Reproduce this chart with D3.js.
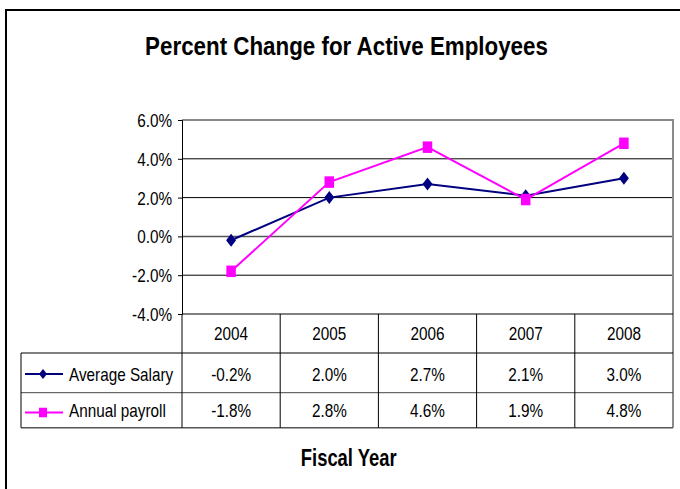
<!DOCTYPE html>
<html>
<head>
<meta charset="utf-8">
<script src="https://cdn.jsdelivr.net/npm/d3@7"></script>
<style>
  body { margin: 0; background: #fff; }
  text { font-family: "Liberation Sans", Arial, sans-serif; fill: #000; }
</style>
</head>
<body>
<div id="div_chart"></div>
<script>
// chart data
var years = ["2004", "2005", "2006", "2007", "2008"];
var avgSalary = [-0.2, 2.0, 2.7, 2.1, 3.0];
var annualPayroll = [-1.8, 2.8, 4.6, 1.9, 4.8];
var seriesNames = ["Average Salary", "Annual payroll"];
var yTicks = [-4, -2, 0, 2, 4, 6];

var svgWidth = 680, svgHeight = 489;
// plot area
var plot = {left: 182, right: 673, top: 120, bottom: 314};
// data table rows (header, salary, payroll)
var rowEdges = [314, 353, 392.7, 427.7];
var legendLeft = 21;
var fs = 18, sx = 0.85; // text looks narrow in the reference

var svg = d3.select("#div_chart")
    .append("svg")
        .attr("width", svgWidth)
        .attr("height", svgHeight);

// outer frame (right / bottom run off the picture)
svg.append("rect")
    .attr("x", 6).attr("y", 10)
    .attr("width", 700).attr("height", 520)
    .attr("fill", "none")
    .attr("stroke", "#000")
    .attr("stroke-width", 2);

function label(x, y, txt, size, anchor, bold, scale) {
    svg.append("g")
        .attr("transform", "translate(" + x + "," + y + ") scale(" + scale + ",1)")
      .append("text")
        .attr("text-anchor", anchor)
        .style("font-size", size + "px")
        .style("font-weight", bold ? "bold" : "normal")
        .text(txt);
}

// title
label(346.5, 55, "Percent Change for Active Employees", 26, "middle", true, 0.86);

// scales
var x = d3.scaleBand()
    .domain(years)
    .range([plot.left, plot.right])
    .padding(0);
var y = d3.scaleLinear()
    .domain([-4, 6])
    .range([plot.bottom, plot.top]);

// gridlines
svg.append("g")
    .selectAll("line")
    .data(yTicks.filter(d => d > -4 && d < 6))
    .enter()
    .append("line")
        .attr("x1", plot.left).attr("x2", plot.right)
        .attr("y1", d => y(d)).attr("y2", d => y(d))
        .attr("stroke", d => d === 0 ? "#555" : "#000")
        .attr("stroke-width", d => d === 0 ? 1.5 : 1);

// plot border top / right (grey)
svg.append("path")
    .attr("d", "M" + plot.left + "," + y(6) + "H" + plot.right + "V" + rowEdges[3])
    .attr("fill", "none")
    .attr("stroke", "#8a8a8a")
    .attr("stroke-width", 2);

// y axis
var yAxis = svg.append("g")
    .attr("transform", "translate(" + plot.left + ",0)")
    .call(d3.axisLeft(y)
        .tickValues(yTicks)
        .tickSize(4)
        .tickPadding(6)
        .tickFormat(d => d.toFixed(1) + "%"));
yAxis.select(".domain").attr("stroke", "#000");
yAxis.selectAll(".tick line").attr("stroke", "#000");
yAxis.selectAll("text")
    .attr("font-family", null)
    .attr("font-size", null)
    .style("font-size", fs + "px")
    .attr("x", -10 / sx)
    .attr("dy", "0.36em")
    .attr("transform", "scale(" + sx + ",1)");

// data table grid
var tbl = svg.append("g").attr("stroke", "#000").attr("stroke-width", 1);
tbl.append("line")
    .attr("x1", plot.left).attr("x2", plot.right)
    .attr("y1", rowEdges[0]).attr("y2", rowEdges[0]);
[rowEdges[1], rowEdges[2]].forEach(function (r, i) {
    tbl.append("line")
        .attr("x1", legendLeft).attr("x2", plot.right)
        .attr("y1", r).attr("y2", r)
        .attr("stroke", i === 1 ? "#444" : "#000");
});
tbl.append("line")
    .attr("x1", legendLeft).attr("x2", plot.right)
    .attr("y1", rowEdges[3]).attr("y2", rowEdges[3])
    .attr("stroke", "#555").attr("stroke-width", 1.5);
tbl.append("line")
    .attr("x1", legendLeft).attr("x2", legendLeft)
    .attr("y1", rowEdges[1]).attr("y2", rowEdges[3]);
tbl.selectAll(".col")
    .data(years)
    .enter()
    .append("line")
        .attr("x1", d => x(d)).attr("x2", d => x(d))
        .attr("y1", rowEdges[0]).attr("y2", rowEdges[3]);

// header years
years.forEach(function (yr) {
    label(x(yr) + x.bandwidth() / 2, 339.5, yr, fs, "middle", false, sx);
});

// series
var series = [
    {name: seriesNames[0], values: avgSalary, color: "#000080", shape: "diamond", baseline: 381, mid: 374},
    {name: seriesNames[1], values: annualPayroll, color: "#ff00ff", shape: "square", baseline: 417, mid: 412.5}
];

var line = d3.line()
    .x((d, i) => x(years[i]) + x.bandwidth() / 2)
    .y(d => y(d));

function marker(g, shape, color, big) {
    if (shape === "diamond") {
        var w = big ? 5 : 4, h = big ? 6.5 : 5;
        g.append("path")
            .attr("d", "M0," + (-h) + "L" + w + ",0L0," + h + "L" + (-w) + ",0Z")
            .attr("fill", color);
    } else {
        var sw = big ? 9.5 : 8, sh = big ? 11.5 : 9.5;
        g.append("rect")
            .attr("x", -sw / 2).attr("y", -sh / 2)
            .attr("width", sw).attr("height", sh)
            .attr("fill", color);
    }
}

series.forEach(function (s) {
    svg.append("path")
        .datum(s.values)
        .attr("d", line)
        .attr("fill", "none")
        .attr("stroke", s.color)
        .attr("stroke-width", 2);
    s.values.forEach(function (v, i) {
        var g = svg.append("g")
            .attr("transform", "translate(" + (x(years[i]) + x.bandwidth() / 2) + "," + y(v) + ")");
        marker(g, s.shape, s.color, true);
    });

    // table row: legend key + values
    svg.append("line")
        .attr("x1", 25).attr("x2", 63)
        .attr("y1", s.mid).attr("y2", s.mid)
        .attr("stroke", s.color).attr("stroke-width", 2);
    marker(svg.append("g").attr("transform", "translate(43," + s.mid + ")"), s.shape, s.color, false);
    label(69, s.baseline, s.name, fs, "start", false, sx);
    s.values.forEach(function (v, i) {
        label(x(years[i]) + x.bandwidth() / 2, s.baseline, v.toFixed(1) + "%", fs, "middle", false, sx);
    });
});

// x axis title
label(348.7, 466, "Fiscal Year", 23, "middle", true, 0.8);
</script>
</body>
</html>
